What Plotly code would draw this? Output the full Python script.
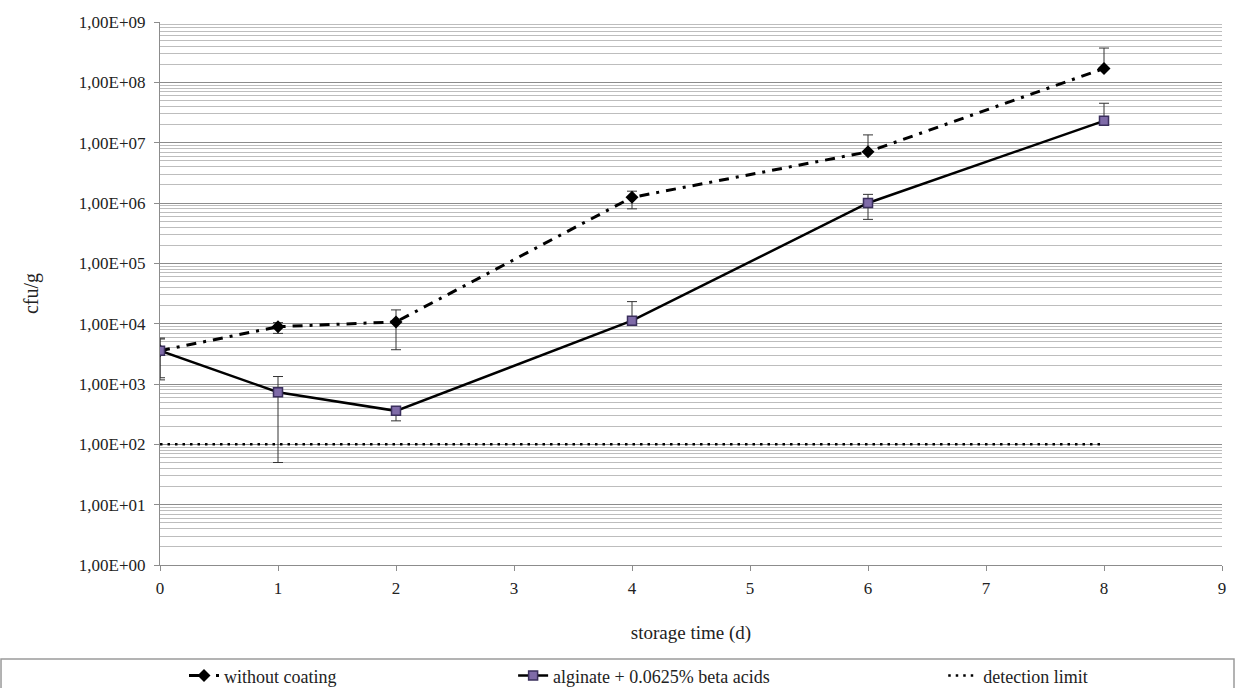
import plotly.graph_objects as go

# Storage days sampled
days = [0, 1, 2, 4, 6, 8]

# Uncoated samples (cfu/g) with upper / lower error
uncoated = [3.57e3, 8.9e3, 1.07e4, 1.24e6, 7.05e6, 1.7e8]
uncoated_err_plus = [2.2e3, 1.5e3, 6.2e3, 3.3e5, 6.4e6, 2.0e8]
uncoated_err_minus = [2.3e3, 2.0e3, 7.0e3, 4.4e5, 0, 0]

# Alginate + beta acids coated samples (cfu/g)
coated = [3.57e3, 730, 359, 1.12e4, 1.0e6, 2.3e7]
coated_err_plus = [2.0e3, 600, 0, 1.2e4, 3.9e5, 2.2e7]
coated_err_minus = [2.4e3, 680, 114, 0, 4.65e5, 0]

# Detection limit
limit_days = [0, 8]
limit_value = [100, 100]

# Y axis labels
y_tickvals = [1e0, 1e1, 1e2, 1e3, 1e4, 1e5, 1e6, 1e7, 1e8, 1e9]
y_ticktext = ["1,00E+00", "1,00E+01", "1,00E+02", "1,00E+03", "1,00E+04",
              "1,00E+05", "1,00E+06", "1,00E+07", "1,00E+08", "1,00E+09"]
x_tickvals = list(range(10))

FONT = "'Liberation Serif', 'Times New Roman', serif"
TXT = "#222222"

fig = go.Figure()

fig.add_trace(go.Scatter(
    x=days, y=uncoated, name="without coating", mode="lines+markers",
    line=dict(color="black", width=3, dash="10px,7px,3px,7px"),
    marker=dict(symbol="diamond", size=10, color="black"),
    error_y=dict(type="data", symmetric=False, array=uncoated_err_plus,
                 arrayminus=uncoated_err_minus, color="#333333",
                 thickness=1, width=5),
    legend="legend", showlegend=True,
))

fig.add_trace(go.Scatter(
    x=days, y=coated, name="alginate + 0.0625% beta acids", mode="lines+markers",
    line=dict(color="black", width=2.5),
    marker=dict(symbol="square", size=9, color="#7F6BA8",
                line=dict(color="#3A2F5C", width=1.5)),
    error_y=dict(type="data", symmetric=False, array=coated_err_plus,
                 arrayminus=coated_err_minus, color="#333333",
                 thickness=1, width=5),
    legend="legend2", showlegend=True,
))

fig.add_trace(go.Scatter(
    x=limit_days, y=limit_value, name="detection limit", mode="lines",
    line=dict(color="black", width=2.5, dash="2.5px,5px"),
    legend="legend3", showlegend=True,
))

legend_common = dict(orientation="h", yanchor="middle", y=-0.204,
                     xanchor="left", bgcolor="rgba(0,0,0,0)",
                     font=dict(family=FONT, size=18, color=TXT))

fig.update_layout(
    width=1235, height=688,
    margin=dict(l=160, r=13, t=22, b=123, autoexpand=False),
    plot_bgcolor="white", paper_bgcolor="white",
    showlegend=True,
    font=dict(family=FONT, size=17, color=TXT),
    legend=dict(x=0.0226, **legend_common),
    legend2=dict(x=0.3325, **legend_common),
    legend3=dict(x=0.7375, **legend_common),
    xaxis=dict(
        range=[0, 9], tickvals=x_tickvals, showgrid=False,
        showline=True, linecolor="#8c8c8c", linewidth=1,
        ticks="outside", ticklen=5, tickcolor="#8c8c8c",
        tickfont=dict(family=FONT, size=17, color=TXT),
        ticklabelstandoff=3,
        zeroline=False, automargin=False,
        title=dict(text="storage time (d)", standoff=28,
                   font=dict(family=FONT, size=19, color=TXT)),
    ),
    yaxis=dict(
        type="log", range=[0, 9],
        tickvals=y_tickvals, ticktext=y_ticktext,
        showgrid=True, gridcolor="#8c8c8c", gridwidth=1,
        showline=True, linecolor="#8c8c8c", linewidth=1,
        ticks="outside", ticklen=5, tickcolor="#8c8c8c",
        tickfont=dict(family=FONT, size=17, color=TXT),
        ticklabelstandoff=5,
        minor=dict(dtick="D1", showgrid=True, gridcolor="#bdbdbd",
                   gridwidth=1, ticks=""),
        zeroline=False, automargin=False,
        title=dict(text="cfu/g", standoff=34,
                   font=dict(family=FONT, size=20, color=TXT)),
    ),
    shapes=[dict(type="rect", xref="paper", yref="paper",
                 x0=-0.1497, x1=1.0113, y0=-0.1731, y1=-0.26,
                 line=dict(color="#9a9a9a", width=1.5))],
)

fig.write_html("out.html")
